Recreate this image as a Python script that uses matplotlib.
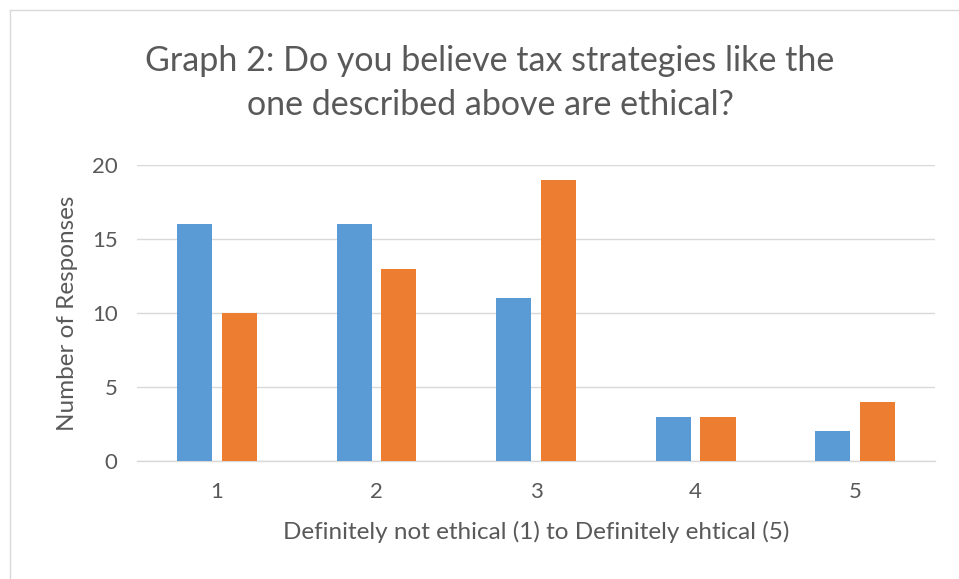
import matplotlib
matplotlib.use("Agg")
import matplotlib.pyplot as plt
from matplotlib.lines import Line2D
import numpy as np

categories = ["1", "2", "3", "4", "5"]
series_a = [16, 16, 11, 3, 2]
series_b = [10, 13, 19, 3, 4]
yticks = [0, 5, 10, 15, 20]

plt.rcParams['font.family'] = ['Lato', 'DejaVu Sans']
txt = '#595959'

fig = plt.figure(figsize=(9.59, 5.79), dpi=100)
ax = fig.add_axes([137/959, 1-461/579, 798/959, 296/579])

x = np.arange(len(categories))
w = 0.22
ax.bar(x - 0.14, series_a, width=w, color='#5B9BD5', zorder=3)
ax.bar(x + 0.14, series_b, width=w, color='#ED7D31', zorder=3)

ax.set_xlim(-0.5, len(categories) - 0.5)
ax.set_ylim(0, 20)
ax.set_yticks(yticks)
ax.set_yticklabels([str(v) for v in yticks], fontsize=16, color=txt)
ax.set_xticks(x)
ax.set_xticklabels(categories, fontsize=16, color=txt)
ax.tick_params(axis='both', length=0)
ax.tick_params(axis='y', pad=14)
ax.tick_params(axis='x', pad=15)
ax.grid(axis='y', color='#d9d9d9', linewidth=1, zorder=0)
for s in ['top', 'right', 'left']:
    ax.spines[s].set_visible(False)
ax.spines['bottom'].set_color('#d9d9d9')
ax.spines['bottom'].set_linewidth(1)

ax.set_ylabel('Number of Responses', fontsize=17.5, color=txt, labelpad=10)
ax.set_xlabel('Definitely not ethical (1) to Definitely ehtical (5)', fontsize=17.5, color=txt, labelpad=14)

fig.text(490/959, 1-83/579, 'Graph 2: Do you believe tax strategies like the\none described above are ethical?',
         ha='center', va='center', fontsize=24.5, color=txt, linespacing=1.45)

fig.add_artist(Line2D([10/959, 1], [1-10/579, 1-10/579], color='#d9d9d9', linewidth=1, transform=fig.transFigure))
fig.add_artist(Line2D([10/959, 10/959], [0, 1-10/579], color='#d9d9d9', linewidth=1, transform=fig.transFigure))

fig.savefig('out.png', dpi=100)
